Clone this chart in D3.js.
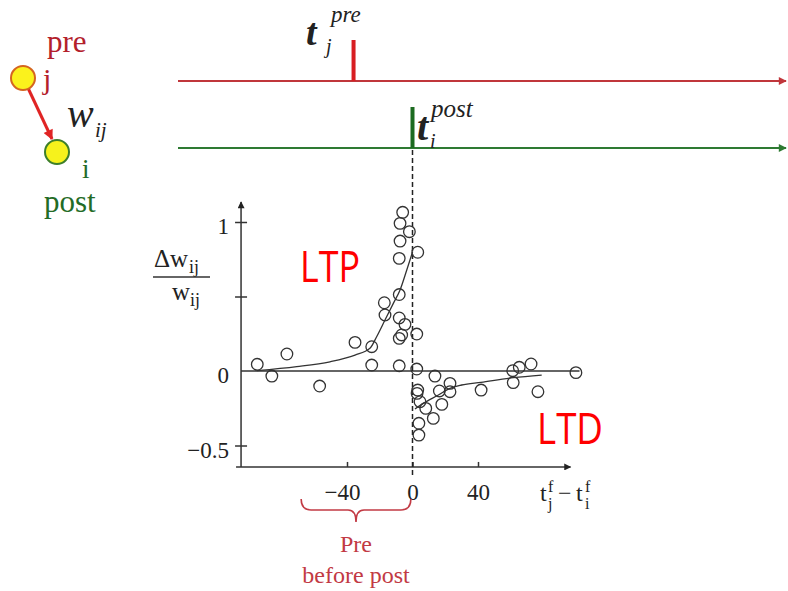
<!DOCTYPE html>
<html>
<head>
<meta charset="utf-8">
<script src="https://cdn.jsdelivr.net/npm/d3@7"></script>
<style>
  body { margin: 0; background: #fff; }
  svg { display: block; }
</style>
</head>
<body>
<div id="chart"></div>
<script>
// measured points, [t_j - t_i (ms), dw/w]
const ltpPoints = [
  [-94.8, 0.045], [-85.9, -0.034], [-76.7, 0.114], [-56.7, -0.101], [-35.1, 0.192],
  [-24.9, 0.163], [-24.9, 0.040], [-17.2, 0.458], [-16.8, 0.376], [-8.1, 0.513],
  [-8.1, 0.356], [-4.6, 0.313], [-6.6, 0.242], [-8.1, 0.219], [-8.1, 0.035],
  [-6.0, 1.065], [-7.6, 0.991], [-1.9, 0.935], [-7.6, 0.872], [-8.1, 0.756],
  [3.2, 0.797], [2.6, 0.248], [2.6, 0.013]
];
const ltdPoints = [
  [13.7, -0.034], [3.2, -0.128], [2.8, -0.150], [4.6, -0.206], [8.1, -0.251],
  [17.9, -0.224], [16.4, -0.134], [22.9, -0.083], [22.9, -0.139], [41.9, -0.128],
  [12.7, -0.318], [3.9, -0.351], [3.9, -0.430], [61.2, 0.002], [65.2, 0.025],
  [72.4, 0.047], [99.8, -0.011], [61.5, -0.078], [76.6, -0.139]
];
// fitted curves
const ltpFit = [
  [-95.1, 0.002], [-70.7, 0.029], [-50.4, 0.062], [-35.1, 0.107], [-26.0, 0.152],
  [-21.9, 0.230], [-16.8, 0.342], [-11.7, 0.454], [-7.6, 0.544], [-3.5, 0.678], [0.1, 0.801]
];
const ltdFit = [
  [1.5, -0.255], [6.6, -0.217], [15.8, -0.161], [22.9, -0.116], [30.0, -0.094],
  [41.8, -0.076], [61.6, -0.045], [78.9, -0.027]
];
const xTicks = [-40, 0, 40];
const xTickLabels = ['\u221240', '0', '40'];
const yTicks = [1, 0.5, 0, -0.5];
const yTickLabels = ['1', '', '0', '\u22120.5'];
// spike times on the two trains (same time axis)
const spikePre = -36;
const spikePost = 0;
// bracket under the axis
const braceSpan = [-68, -1];

const width = 788, height = 591;
const serif = '"Liberation Serif", "DejaVu Serif", serif';
const sans = '"Open Sans", "Liberation Sans", sans-serif';

const svg = d3.select('#chart').append('svg')
  .attr('width', width)
  .attr('height', height);

const x = d3.scaleLinear().domain([-40, 40]).range([347, 478]);
const y = d3.scaleLinear().domain([-0.5, 1]).range([445.5, 222]);
const xMin = -104.7, xMax = 96.5, yMin = -0.644, yMax = 1.134;

// markers
const defs = svg.append('defs');
function marker(id, color, w, h) {
  defs.append('marker')
    .attr('id', id)
    .attr('viewBox', '0 0 10 10')
    .attr('refX', 9).attr('refY', 5)
    .attr('markerUnits', 'userSpaceOnUse')
    .attr('markerWidth', w).attr('markerHeight', h)
    .attr('orient', 'auto')
    .append('path')
    .attr('d', 'M0,0 L10,5 L0,10 Z')
    .attr('fill', color);
}
marker('arrAxis', '#222', 11, 7);
marker('arrRed', '#c0363b', 12, 8);
marker('arrGreen', '#2e7a32', 12, 8);
marker('arrSyn', '#e02424', 11, 10);

// ---- spike trains
const trainX0 = 178, trainX1 = 786;
svg.append('line')
  .attr('x1', trainX0).attr('x2', trainX1)
  .attr('y1', 81).attr('y2', 81)
  .attr('stroke', '#c0363b').attr('stroke-width', 2)
  .attr('marker-end', 'url(#arrRed)');
svg.append('rect')
  .attr('x', x(spikePre) - 2).attr('y', 40)
  .attr('width', 4).attr('height', 41)
  .attr('fill', '#d81e22');
svg.append('line')
  .attr('x1', trainX0).attr('x2', trainX1)
  .attr('y1', 148).attr('y2', 148)
  .attr('stroke', '#2e7a32').attr('stroke-width', 2)
  .attr('marker-end', 'url(#arrGreen)');
svg.append('rect')
  .attr('x', x(spikePost) - 2).attr('y', 107)
  .attr('width', 4).attr('height', 41)
  .attr('fill', '#1c6b20');

// t_j^pre
const tPre = svg.append('text')
  .attr('font-family', serif).attr('font-style', 'italic').attr('fill', '#222');
tPre.append('tspan').attr('x', 306).attr('y', 45)
  .attr('font-size', 38).attr('font-weight', 'bold').text('t');
tPre.append('tspan').attr('x', 331).attr('y', 22)
  .attr('font-size', 23).text('pre');
tPre.append('tspan').attr('x', 326).attr('y', 53)
  .attr('font-size', 20).text('j');

// t_i^post
const tPost = svg.append('text')
  .attr('font-family', serif).attr('font-style', 'italic').attr('fill', '#222');
tPost.append('tspan').attr('x', 417).attr('y', 140)
  .attr('font-size', 40).attr('font-weight', 'bold').text('t');
tPost.append('tspan').attr('x', 431).attr('y', 117)
  .attr('font-size', 25).text('post');
tPost.append('tspan').attr('x', 430).attr('y', 148)
  .attr('font-size', 20).text('i');

// ---- neuron sketch
svg.append('text')
  .attr('x', 47).attr('y', 52)
  .attr('font-family', serif).attr('font-size', 31)
  .attr('fill', '#b3202b').text('pre');
svg.append('text')
  .attr('x', 43).attr('y', 89)
  .attr('font-family', serif).attr('font-size', 30)
  .attr('fill', '#b3202b').text('j');
svg.append('line')
  .attr('x1', 28).attr('y1', 88)
  .attr('x2', 52).attr('y2', 139)
  .attr('stroke', '#e02424').attr('stroke-width', 3)
  .attr('marker-end', 'url(#arrSyn)');
svg.append('circle')
  .attr('cx', 23).attr('cy', 78).attr('r', 12)
  .attr('fill', '#fbf21c').attr('stroke', '#d5651f').attr('stroke-width', 2);
svg.append('circle')
  .attr('cx', 57).attr('cy', 152).attr('r', 12)
  .attr('fill', '#f6f21c').attr('stroke', '#3d7f2a').attr('stroke-width', 2);
const wLab = svg.append('text')
  .attr('font-family', serif).attr('font-style', 'italic').attr('fill', '#222');
wLab.append('tspan').attr('x', 67).attr('y', 127)
  .attr('font-size', 40).text('w');
wLab.append('tspan').attr('x', 95).attr('y', 137)
  .attr('font-size', 21).text('ij');
svg.append('text')
  .attr('x', 82).attr('y', 178)
  .attr('font-family', serif).attr('font-size', 27)
  .attr('fill', '#236b26').text('i');
svg.append('text')
  .attr('x', 44).attr('y', 212)
  .attr('font-family', serif).attr('font-size', 31)
  .attr('fill', '#236b26').text('post');

// ---- plot
const plot = svg.append('g');

// y axis
plot.append('line')
  .attr('x1', x(xMin)).attr('x2', x(xMin))
  .attr('y1', y(yMin)).attr('y2', y(yMax))
  .attr('stroke', '#333').attr('stroke-width', 1.5)
  .attr('marker-end', 'url(#arrAxis)');
const yAxis = plot.append('g')
  .attr('transform', `translate(${x(xMin)},0)`)
  .call(d3.axisLeft(y).tickValues(yTicks).tickSize(6).tickPadding(6)
    .tickFormat((d, i) => yTickLabels[i]));
yAxis.select('.domain').remove();
yAxis.selectAll('.tick line').attr('x1', -6).attr('x2', 6)
  .attr('stroke', '#333').attr('stroke-width', 1.5);
yAxis.selectAll('.tick line').filter(d => d === 0).remove();
yAxis.selectAll('.tick text').attr('dy', '0.5em');
yAxis.attr('font-family', serif).attr('font-size', 23);
yAxis.selectAll('.tick text').attr('fill', '#222');

// x axis
plot.append('line')
  .attr('x1', x(xMin) - 5).attr('x2', x(xMax))
  .attr('y1', y(yMin)).attr('y2', y(yMin))
  .attr('stroke', '#333').attr('stroke-width', 1.5)
  .attr('marker-end', 'url(#arrAxis)');
const xAxis = plot.append('g')
  .attr('transform', `translate(0,${y(yMin)})`)
  .call(d3.axisBottom(x).tickValues(xTicks).tickSizeInner(-5).tickSizeOuter(0)
    .tickPadding(17).tickFormat((d, i) => xTickLabels[i]));
xAxis.select('.domain').remove();
xAxis.selectAll('.tick line').attr('stroke', '#333').attr('stroke-width', 1.5);
xAxis.attr('font-family', serif).attr('font-size', 23);
xAxis.selectAll('.tick text').attr('fill', '#222');
xAxis.selectAll('.tick text').filter(d => d < 0).attr('dx', -5);

// x axis label t_j^f - t_i^f
const xLab = plot.append('text')
  .attr('font-family', serif).attr('fill', '#222');
xLab.append('tspan').attr('x', 540).attr('y', 501).attr('font-size', 24).text('t');
xLab.append('tspan').attr('x', 548).attr('y', 492).attr('font-size', 16).text('f');
xLab.append('tspan').attr('x', 548).attr('y', 509).attr('font-size', 16).text('j');
xLab.append('tspan').attr('x', 558).attr('y', 501).attr('font-size', 24).text('\u2212');
xLab.append('tspan').attr('x', 576).attr('y', 501).attr('font-size', 24).text('t');
xLab.append('tspan').attr('x', 585).attr('y', 492).attr('font-size', 16).text('f');
xLab.append('tspan').attr('x', 585).attr('y', 509).attr('font-size', 16).text('i');

// y axis label dw_ij / w_ij
const yLab = plot.append('g').attr('font-family', serif).attr('fill', '#222');
const num = yLab.append('text');
num.append('tspan').attr('x', 154).attr('y', 267).attr('font-size', 25).text('\u0394w');
num.append('tspan').attr('x', 189).attr('y', 273).attr('font-size', 18).text('ij');
yLab.append('line')
  .attr('x1', 153).attr('x2', 210).attr('y1', 277).attr('y2', 277)
  .attr('stroke', '#333').attr('stroke-width', 1.3);
const den = yLab.append('text');
den.append('tspan').attr('x', 172).attr('y', 300).attr('font-size', 25).text('w');
den.append('tspan').attr('x', 190).attr('y', 306).attr('font-size', 18).text('ij');

// zero line
plot.append('line')
  .attr('x1', x(xMin)).attr('x2', x(102))
  .attr('y1', y(0)).attr('y2', y(0))
  .attr('stroke', '#333').attr('stroke-width', 1.3);

// dashed t = 0 line from the post spike down
plot.append('line')
  .attr('x1', x(0)).attr('x2', x(0))
  .attr('y1', 150).attr('y2', y(yMin) + 8)
  .attr('stroke', '#222').attr('stroke-width', 1.5)
  .attr('stroke-dasharray', '5,3');

// fits
const line = d3.line()
  .x(d => x(d[0]))
  .y(d => y(d[1]))
  .curve(d3.curveMonotoneX);
plot.selectAll('.fit')
  .data([ltpFit, ltdFit])
  .enter().append('path')
  .attr('class', 'fit')
  .attr('d', line)
  .attr('fill', 'none')
  .attr('stroke', '#333')
  .attr('stroke-width', 1.3);

// points
plot.selectAll('.pt')
  .data(ltpPoints.concat(ltdPoints))
  .enter().append('circle')
  .attr('class', 'pt')
  .attr('cx', d => x(d[0]))
  .attr('cy', d => y(d[1]))
  .attr('r', 5.8)
  .attr('fill', 'none')
  .attr('stroke', '#333')
  .attr('stroke-width', 1.3);

// LTP / LTD
plot.append('text')
  .attr('x', 300).attr('y', 282)
  .attr('font-family', sans).attr('font-size', 43)
  .attr('textLength', 60).attr('lengthAdjust', 'spacingAndGlyphs')
  .attr('fill', '#ff0000').text('LTP');
plot.append('text')
  .attr('x', 537).attr('y', 444)
  .attr('font-family', sans).attr('font-size', 43)
  .attr('textLength', 66).attr('lengthAdjust', 'spacingAndGlyphs')
  .attr('fill', '#ff0000').text('LTD');

// brace + "Pre before post"
const bx0 = x(braceSpan[0]), bx1 = x(braceSpan[1]);
const bm = (bx0 + bx1) / 2, bTop = 499, bMid = 510, bTip = 522;
plot.append('path')
  .attr('d', `M${bx0},${bTop} Q${bx0},${bMid} ${bx0 + 10},${bMid} L${bm - 8},${bMid}` +
    ` Q${bm},${bMid} ${bm},${bTip} Q${bm},${bMid} ${bm + 8},${bMid}` +
    ` L${bx1 - 10},${bMid} Q${bx1},${bMid} ${bx1},${bTop}`)
  .attr('fill', 'none')
  .attr('stroke', '#c23a44')
  .attr('stroke-width', 1.6);
plot.append('text')
  .attr('x', bm).attr('y', 552)
  .attr('text-anchor', 'middle')
  .attr('font-family', serif).attr('font-size', 24)
  .attr('fill', '#c23a44').text('Pre');
plot.append('text')
  .attr('x', bm).attr('y', 583)
  .attr('text-anchor', 'middle')
  .attr('font-family', serif).attr('font-size', 24)
  .attr('fill', '#c23a44').text('before post');
</script>
</body>
</html>
